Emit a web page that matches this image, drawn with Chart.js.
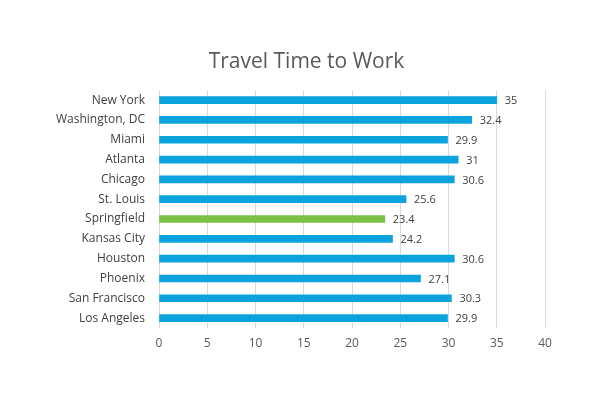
<!DOCTYPE html>
<html>
<head>
<meta charset="utf-8">
<script src="https://cdn.jsdelivr.net/npm/chart.js@4"></script>
<style>
  html, body { margin: 0; padding: 0; background: #fff; }
  #wrap { width: 613px; height: 396px; }
</style>
</head>
<body>
<div id="wrap"><canvas id="travelChart" width="613" height="396"></canvas></div>
<script>
// Chart data
const cities = ['New York', 'Washington, DC', 'Miami', 'Atlanta', 'Chicago', 'St. Louis',
    'Springfield', 'Kansas City', 'Houston', 'Phoenix', 'San Francisco', 'Los Angeles'];
const minutes = [35, 32.4, 29.9, 31, 30.6, 25.6, 23.4, 24.2, 30.6, 27.1, 30.3, 29.9];
const highlightCity = 'Springfield';
const xTicks = [0, 5, 10, 15, 20, 25, 30, 35, 40];

const BLUE = '#0aa3dd';
const GREEN = '#7bc143';
const FONT = "'Open Sans', sans-serif";

// Draws the value next to the end of each bar
const valueLabels = {
    id: 'valueLabels',
    afterDatasetsDraw(chart) {
        const ctx = chart.ctx;
        const meta = chart.getDatasetMeta(0);
        ctx.save();
        ctx.font = '11px ' + FONT;
        ctx.fillStyle = '#404040';
        ctx.textAlign = 'left';
        ctx.textBaseline = 'middle';
        meta.data.forEach((bar, i) => {
            ctx.fillText(String(minutes[i]), bar.x + 8, bar.y + 1);
        });
        ctx.restore();
    }
};

const ctx = document.getElementById('travelChart').getContext('2d');
new Chart(ctx, {
    type: 'bar',
    data: {
        labels: cities,
        datasets: [{
            data: minutes,
            backgroundColor: cities.map(c => c === highlightCity ? GREEN : BLUE),
            barThickness: 7
        }]
    },
    options: {
        indexAxis: 'y',
        responsive: false,
        animation: false,
        layout: { padding: { left: 0, right: 0, top: 0, bottom: 40 } },
        plugins: {
            legend: { display: false },
            tooltip: { enabled: false },
            title: {
                display: true,
                text: 'Travel Time to Work',
                color: '#595959',
                font: { family: FONT, size: 21, weight: 'normal' },
                padding: { top: 49, bottom: 16 }
            }
        },
        scales: {
            x: {
                min: 0,
                max: 40,
                afterBuildTicks: (scale) => { scale.ticks = xTicks.map(v => ({ value: v })); },
                afterFit: (scale) => { scale.height = 28; },
                grid: { color: '#d9d9d9', drawTicks: false },
                border: { display: false },
                ticks: { color: '#595959', padding: 8, font: { family: FONT, size: 12 } }
            },
            y: {
                afterFit: (scale) => { scale.width = 159; },
                grid: { display: false, drawTicks: false },
                border: { display: false },
                ticks: { color: '#404040', padding: 14, font: { family: FONT, size: 12 } }
            },
            // empty right-hand axis: reserves the right margin so the title stays centred
            yRight: {
                type: 'category',
                position: 'right',
                afterFit: (scale) => { scale.width = 68; },
                grid: { display: false, drawTicks: false },
                border: { display: false },
                ticks: { display: false }
            }
        }
    },
    plugins: [valueLabels]
});
</script>
</body>
</html>
